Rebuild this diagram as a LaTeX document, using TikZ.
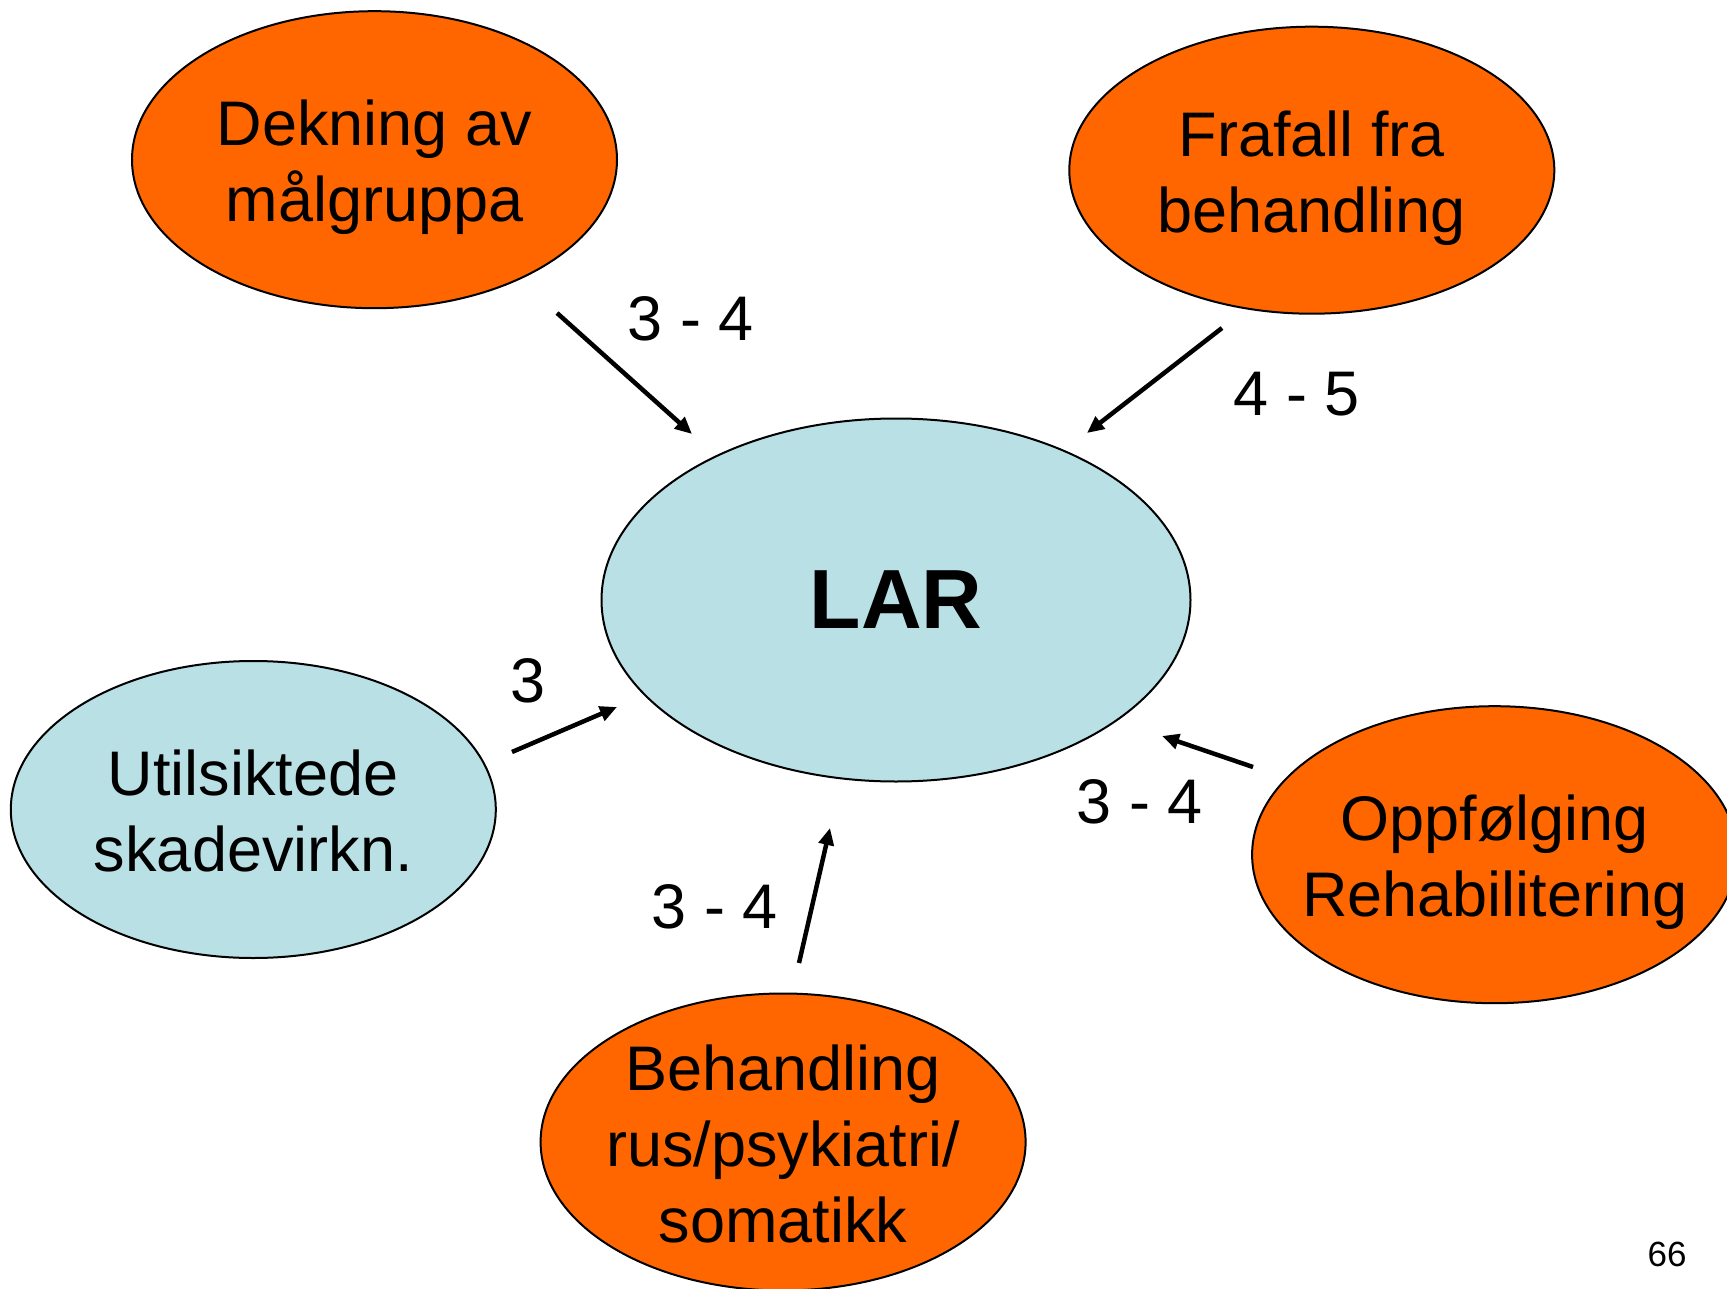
\documentclass[tikz,border=0pt]{standalone}
\usepackage{fontspec}
\setmainfont{Liberation Sans}
\usetikzlibrary{shapes.geometric,arrows.meta}
\definecolor{laroransje}{RGB}{255,102,0}
\definecolor{larblaa}{RGB}{185,224,228}
% line struts, so every ellipse text is centred on its line boxes
\newcommand{\linjetopp}{\rule{0pt}{61pt}}
\newcommand{\linjebotn}{\rule[-13pt]{0pt}{13pt}}

\begin{document}
\begin{tikzpicture}[
    x=1pt, y=-1pt,
    boble/.style={ellipse, draw=black, line width=2pt, inner sep=-40pt, align=center},
    tema/.style={boble, fill=laroransje, minimum width=485pt, minimum height=297pt, font=\fontsize{63}{76}\selectfont},
    kjerne/.style={boble, fill=larblaa, minimum width=589pt, minimum height=363pt, font=\fontsize{84}{100}\selectfont\bfseries},
    karakter/.style={inner sep=0pt, font=\fontsize{63}{76}\selectfont},
    pil/.style={line width=4.5pt, -{Triangle[length=17pt,width=15pt]}}
]

% page and margins
\clip (0,0) rectangle (1727,1289);
\fill[white] (0,0) rectangle (1727,1289);

% ellipses
\node[kjerne] (lar) at (896,600) {LAR};
\node[tema] (dekning) at (374.5,159.7) {\linjetopp Dekning av\\målgruppa\linjebotn};
\node[tema, minimum height=287pt] (frafall) at (1311.8,170.2) {\linjetopp Frafall fra\\behandling\linjebotn};
\node[tema, fill=larblaa] (utilsiktede) at (253.3,809.5) {\linjetopp Utilsiktede\\skadevirkn.\linjebotn};
\node[tema] (oppfolging) at (1494.6,854.7) {\linjetopp Oppfølging\\Rehabilitering\linjebotn};
\node[tema] (behandling) at (783.1,1142) {\linjetopp Behandling\\rus/psykiatri/\\somatikk\linjebotn};

% arrow ends
\coordinate (dekningut) at (557,313);
\coordinate (dekninginn) at (692,434);
\coordinate (frafallut) at (1222,328);
\coordinate (frafallinn) at (1087,433);
\coordinate (utilsiktedeut) at (512,752);
\coordinate (utilsiktedeinn) at (617,707);
\coordinate (oppfolgingut) at (1253,767);
\coordinate (oppfolginginn) at (1162,736);
\coordinate (behandlingut) at (799,963);
\coordinate (behandlinginn) at (830,828);

\draw[pil] (dekningut) -- (dekninginn);
\draw[pil] (frafallut) -- (frafallinn);
\draw[pil] (utilsiktedeut) -- (utilsiktedeinn);
\draw[pil] (oppfolgingut) -- (oppfolginginn);
\draw[pil] (behandlingut) -- (behandlinginn);

% scores
\node[karakter] (kdekning) at (691,319) {3 - 4};
\node[karakter] (kfrafall) at (1297,394) {4 - 5};
\node[karakter] (kutilsiktede) at (528,681) {3};
\node[karakter] (koppfolging) at (1140,802) {3 - 4};
\node[karakter] (kbehandling) at (715,907) {3 - 4};

% page number
\node[inner sep=0pt, font=\fontsize{35}{42}\selectfont] (side) at (1667,1254) {66};

\end{tikzpicture}
\end{document}
